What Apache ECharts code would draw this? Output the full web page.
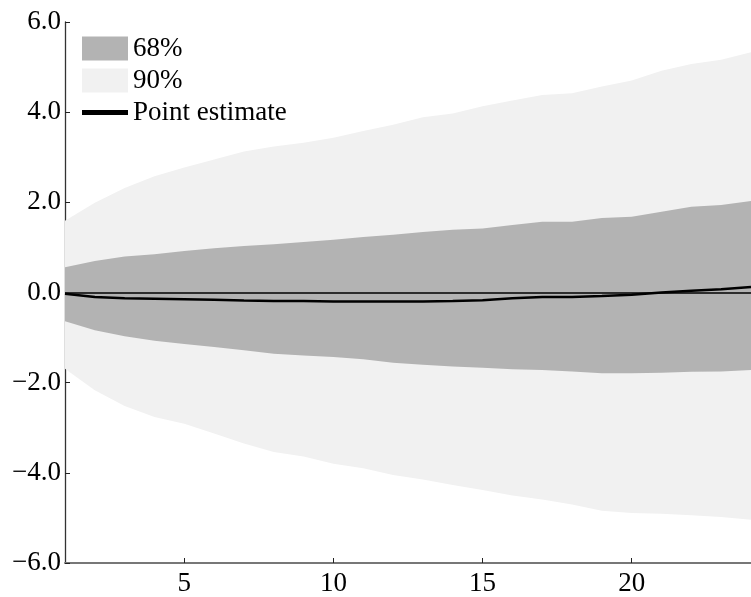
<!DOCTYPE html>
<html>
<head>
<meta charset="utf-8">
<script src="https://cdn.jsdelivr.net/npm/echarts@6/dist/echarts.min.js"></script>
<style>
html,body{margin:0;padding:0;background:#fff;}
#c{width:751px;height:597px;}
</style>
</head>
<body>
<div id="c"></div>
<script>
const horizons = [1,2,3,4,5,6,7,8,9,10,11,12,13,14,15,16,17,18,19,20,21,22,23,24];
const upper90 = [1.59,1.99,2.32,2.58,2.77,2.95,3.13,3.24,3.32,3.43,3.58,3.72,3.89,3.97,4.13,4.26,4.38,4.42,4.57,4.70,4.92,5.07,5.16,5.33];
const upper68 = [0.56,0.70,0.80,0.85,0.92,0.98,1.03,1.07,1.12,1.17,1.23,1.28,1.34,1.39,1.42,1.50,1.57,1.57,1.65,1.68,1.79,1.90,1.94,2.03];
const lower68 = [-0.64,-0.84,-0.97,-1.07,-1.14,-1.21,-1.28,-1.36,-1.40,-1.43,-1.48,-1.56,-1.60,-1.64,-1.67,-1.70,-1.72,-1.75,-1.79,-1.79,-1.78,-1.76,-1.75,-1.72];
const lower90 = [-1.69,-2.17,-2.52,-2.76,-2.91,-3.13,-3.35,-3.54,-3.64,-3.80,-3.90,-4.05,-4.15,-4.27,-4.38,-4.50,-4.59,-4.70,-4.84,-4.89,-4.91,-4.94,-4.98,-5.04];
const pointEstimate = [-0.03,-0.10,-0.13,-0.14,-0.15,-0.16,-0.18,-0.19,-0.19,-0.20,-0.20,-0.20,-0.20,-0.19,-0.17,-0.13,-0.10,-0.10,-0.08,-0.05,0.00,0.04,0.07,0.12];
const xTickValues = [5,10,15,20];
const legendNames = ['68%','90%','Point estimate'];

const FONT = 'Liberation Serif';
const fmt = v => (v<0 ? '\u2212' : '') + Math.abs(v).toFixed(1);
const pairs = arr => horizons.map((h,i)=>[h,arr[i]]);

// band polygon drawn through the axes' own coordinate mapping
function bandSeries(name, lower, upper, color, z){
  return {
    name, type:'custom', z, silent:true,
    itemStyle:{color},
    data: horizons.map((h,i)=>[h, lower[i], upper[i]]),
    encode:{x:0, y:[1,2]},
    renderItem:function(params, api){
      if (params.dataIndex !== 0) return null;
      const pts = [];
      for (let i=0;i<horizons.length;i++) pts.push(api.coord([horizons[i], upper[i]]));
      for (let i=horizons.length-1;i>=0;i--) pts.push(api.coord([horizons[i], lower[i]]));
      return {type:'polygon', shape:{points:pts}, style:{fill:color, stroke:null}};
    }
  };
}

const chart = echarts.init(document.getElementById('c'), null, {renderer:'canvas'});
chart.setOption({
  animation:false,
  backgroundColor:'#ffffff',
  grid:{left:65, right:-5, top:22, bottom:32, containLabel:false},
  legend:{
    orient:'vertical', left:82, top:35, padding:0, itemWidth:46, itemHeight:24, itemGap:5,
    symbolKeepAspect:true,
    textStyle:{fontFamily:FONT, fontSize:27, color:'#000'},
    data:[
      {name:legendNames[0], icon:'rect', itemStyle:{color:'#b3b3b3'}},
      {name:legendNames[1], icon:'rect', itemStyle:{color:'#f1f1f1'}},
      {name:legendNames[2], icon:'path://M0,0 L46,0 L46,5 L0,5 Z', itemStyle:{color:'#000'}}
    ],
    selectedMode:false
  },
  xAxis:{
    type:'value', min:1, max:24,
    axisLine:{show:true, onZero:false, lineStyle:{color:'#777', width:2}},
    axisTick:{show:true, inside:true, length:5, customValues:xTickValues, lineStyle:{color:'#222', width:1}},
    axisLabel:{customValues:xTickValues, fontFamily:FONT, fontSize:27, color:'#000', margin:7},
    splitLine:{show:false}
  },
  yAxis:{
    type:'value', min:-6, max:6, interval:2,
    axisLine:{show:true, lineStyle:{color:'#333', width:1.3}},
    axisTick:{show:true, inside:true, length:5, lineStyle:{color:'#222', width:1}},
    axisLabel:{fontFamily:FONT, fontSize:27, color:'#000', margin:4, formatter:fmt},
    splitLine:{show:false}
  },
  series:[
    bandSeries(legendNames[1], lower90, upper90, '#f1f1f1', 1),
    bandSeries(legendNames[0], lower68, upper68, '#b3b3b3', 2),
    {name:legendNames[2], type:'line', data:pairs(pointEstimate), symbol:'none',
     itemStyle:{color:'#000'}, lineStyle:{color:'#000', width:2.5}, z:4,
     markLine:{silent:true, symbol:['none','none'], label:{show:false},
       lineStyle:{color:'#000', width:1.6, type:'solid'}, data:[{yAxis:0}]}}
  ]
});
</script>
</body>
</html>
